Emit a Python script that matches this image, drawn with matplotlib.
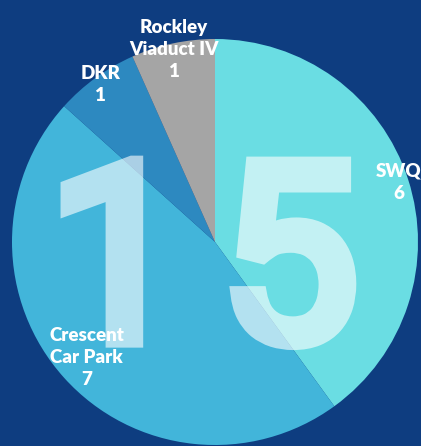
import matplotlib.pyplot as plt
import matplotlib.patheffects as pe
import numpy as np

# slice data, clockwise from 12 o'clock
sites = ["SWQ", "Crescent\nCar Park", "DKR", "Rockley\nViaduct IV"]
counts = [6, 7, 1, 1]
colours = ["#6adde3", "#42b5da", "#2d89c0", "#a5a5a5"]
label_radius = [0.95, 0.85, 0.96, 0.97]
total = sum(counts)

bg = "#0e3d80"
W, H = 421, 446
cx, cy, R = 215, H - 242, 203
digit_x = [117, 289]  # centres of the two big digits


def fade(img, dpi):
    # make the whole (stroked) text see-through in one go
    img[..., 3] *= 0.6
    return img, 0, 0


fig = plt.figure(figsize=(W / 100, H / 100), dpi=100, facecolor=bg)
ax = fig.add_axes([0, 0, 1, 1])
ax.set_facecolor(bg)

ax.pie(counts, colors=colours, startangle=90, counterclock=False,
       center=(cx, cy), radius=R, frame=True,
       wedgeprops=dict(linewidth=0))

ax.set_xlim(0, W)
ax.set_ylim(0, H)
ax.set_aspect("equal")
ax.axis("off")

# big total in the middle, thickened with a stroke
for ch, x in zip(str(total), digit_x):
    big = ax.text(x, H - 340, ch, ha="center", va="baseline",
                  fontsize=178, family="Roboto", color="white")
    big.set_path_effects([pe.Stroke(linewidth=11, foreground="white",
                                    joinstyle="miter"), pe.Normal()])
    big.set_agg_filter(fade)

# slice labels
start = 90.0
for name, n, rf in zip(sites, counts, label_radius):
    mid = np.deg2rad(start - 360 * n / total / 2)
    start -= 360 * n / total
    x = cx + rf * R * np.cos(mid)
    y = cy + rf * R * np.sin(mid)
    ax.text(x, y, f"{name}\n{n}", ha="center", va="center",
            fontsize=13.5, fontweight="heavy", family="Lato",
            color="white", linespacing=1.35)

fig.savefig("out.png", dpi=100, facecolor=bg)
